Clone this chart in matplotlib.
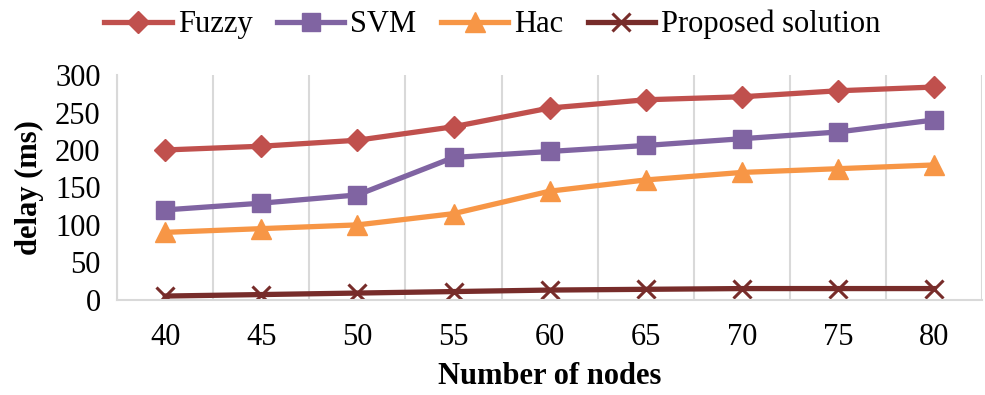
import matplotlib
matplotlib.use("Agg")
from matplotlib import pyplot as plt

nodes = [40, 45, 50, 55, 60, 65, 70, 75, 80]
fuzzy = [200, 205, 213, 231, 256, 267, 271, 279, 284]
svm = [120, 129, 140, 190, 198, 206, 215, 224, 240]
hac = [90, 95, 100, 115, 145, 160, 170, 175, 180]
proposed = [5, 7, 9, 11, 13, 14, 15, 15, 15]
y_ticks = [0, 50, 100, 150, 200, 250, 300]

plt.rcParams['font.family'] = ['Liberation Serif', 'DejaVu Serif']

fig = plt.figure(figsize=(9.85, 3.95), dpi=100)
ax = fig.add_axes([0.119, 0.241, 0.878, 0.569])

lw = 3.8
ax.plot(nodes, fuzzy, color='#C0504D', lw=lw, marker='D', ms=11, label='Fuzzy')
ax.plot(nodes, svm, color='#8064A2', lw=lw, marker='s', ms=13, label='SVM')
ax.plot(nodes, hac, color='#F79646', lw=lw, marker='^', ms=14, label='Hac')
ax.plot(nodes, proposed, color='#772C2A', lw=lw, marker='x', ms=13, mew=2.2,
        label='Proposed solution')

ax.set_xlim(37.5, 82.5)
ax.set_ylim(0, 300)
ax.set_xticks(nodes)
ax.set_yticks(y_ticks)
ax.set_xticks([n + 2.5 for n in [35] + nodes], minor=True)
ax.grid(True, axis='x', which='minor', color='#D9D9D9', lw=1.5)
ax.tick_params(axis='both', which='both', length=0, labelsize=22)
ax.tick_params(axis='x', pad=17)
ax.tick_params(axis='y', pad=12)
for side in ['top', 'right']:
    ax.spines[side].set_visible(False)
for side in ['bottom', 'left']:
    ax.spines[side].set_color('#D9D9D9')
    ax.spines[side].set_linewidth(1.5)

ax.set_xlabel('Number of nodes', fontsize=22, fontweight='bold', labelpad=7)
ax.set_ylabel('delay (ms)', fontsize=22, fontweight='bold', labelpad=8)

fig.legend(loc='upper center', bbox_to_anchor=(0.5, 1.045), ncol=4, frameon=False,
           fontsize=22, handlelength=2.2, handletextpad=0.2, columnspacing=0.8)

fig.savefig('out.png', dpi=100)
